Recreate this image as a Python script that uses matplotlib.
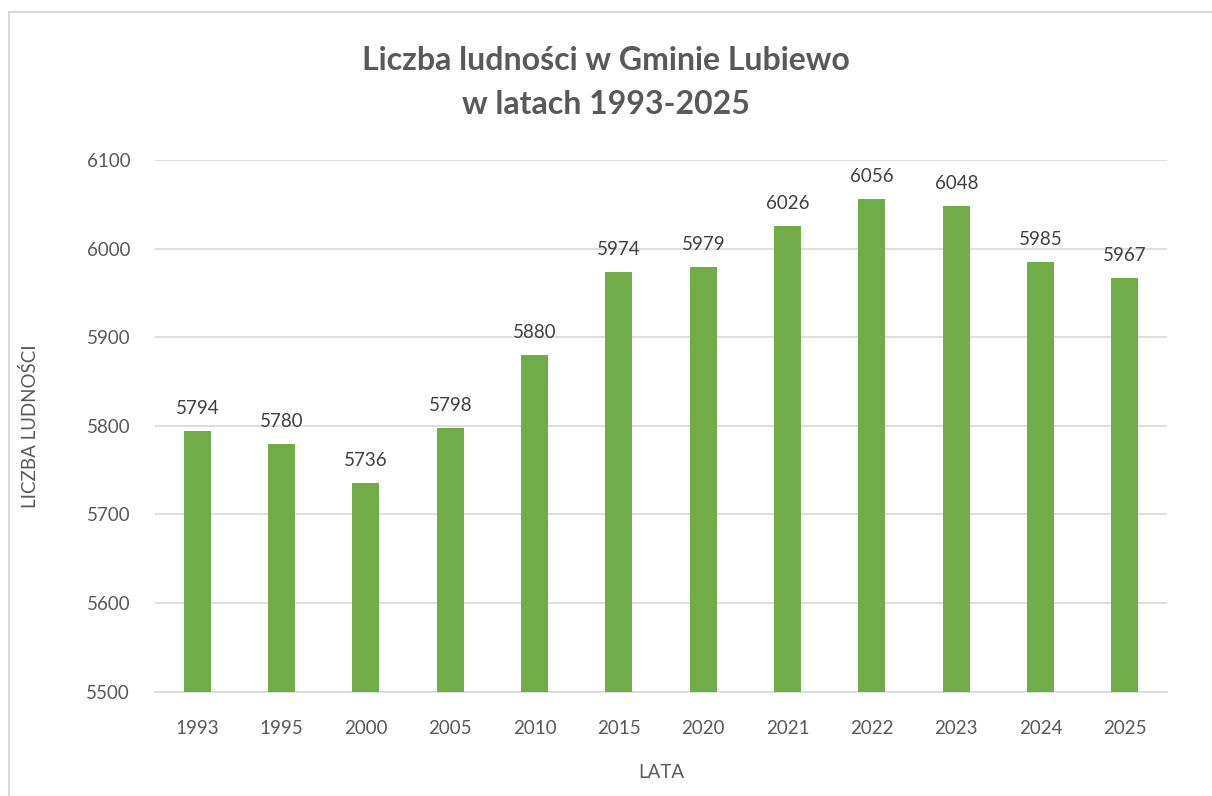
import matplotlib.pyplot as plt
from matplotlib.patches import Rectangle

lata = ['1993', '1995', '2000', '2005', '2010', '2015', '2020', '2021', '2022', '2023', '2024', '2025']
ludnosc = [5794, 5780, 5736, 5798, 5880, 5974, 5979, 6026, 6056, 6048, 5985, 5967]

plt.rcParams['font.family'] = ['Lato', 'DejaVu Sans']

fig = plt.figure(figsize=(12.12, 7.96), dpi=100)
ax = fig.add_axes([0.128, 0.131, 0.835, 0.668])

x = range(len(lata))
bars = ax.bar(x, ludnosc, width=0.32, color='#70AD47', zorder=3)
for xi, v in zip(x, ludnosc):
    ax.annotate(str(v), (xi, v), xytext=(0, 10), textcoords='offset points',
                ha='center', va='bottom', fontsize=13.5, color='#404040')

ax.set_ylim(5500, 6100)
ax.set_xlim(-0.5, len(lata) - 0.5)
ax.set_yticks(range(5500, 6101, 100))
ax.set_xticks(list(x))
ax.set_xticklabels(lata)
ax.tick_params(axis='both', length=0, labelsize=13.5, labelcolor='#595959')
ax.tick_params(axis='y', pad=18)
ax.tick_params(axis='x', pad=20)
ax.yaxis.grid(True, color='#D9D9D9', lw=1.2, zorder=0)
for s in ['top', 'right', 'left']:
    ax.spines[s].set_visible(False)
ax.spines['bottom'].set_color('#D9D9D9')
ax.spines['bottom'].set_linewidth(1.2)

ax.set_ylabel('LICZBA LUDNOŚCI', fontsize=13.5, color='#595959', labelpad=34)
ax.set_xlabel('LATA', fontsize=13.5, color='#595959', labelpad=20)

fig.text(0.5, 0.924, 'Liczba ludności w Gminie Lubiewo', ha='center', va='center',
         fontsize=23, fontweight='bold', color='#595959')
fig.text(0.5, 0.869, 'w latach 1993-2025', ha='center', va='center',
         fontsize=23, fontweight='bold', color='#595959')

fig.patches.append(Rectangle((9 / 1212, -0.05), 1.2, 1 - 12 / 796 + 0.05,
                             transform=fig.transFigure, fill=False,
                             edgecolor='#D9D9D9', lw=1.5))

fig.savefig('out.png', dpi=100)
